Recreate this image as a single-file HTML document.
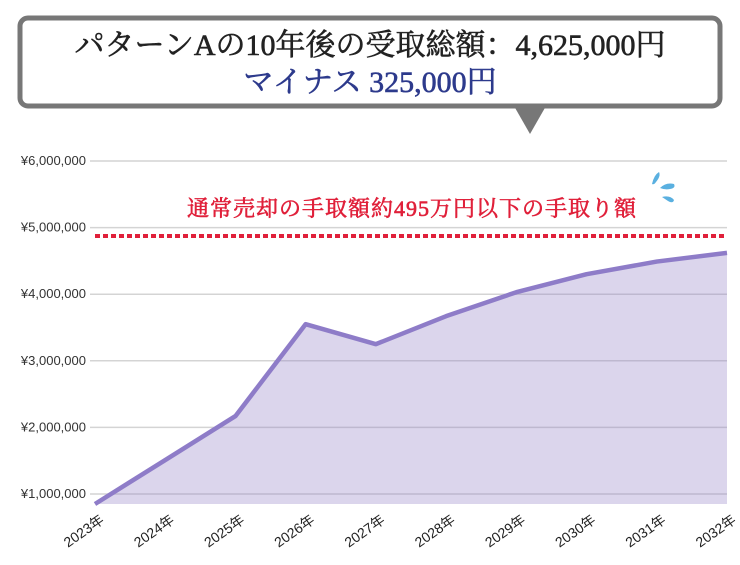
<!DOCTYPE html>
<html><head><meta charset="utf-8"><style>
body{margin:0;background:#fff;width:740px;height:560px;overflow:hidden;font-family:"Liberation Sans","Noto Sans CJK JP",sans-serif}
</style></head><body>
<svg width="740" height="560" xmlns="http://www.w3.org/2000/svg">
<g>
<rect x="20" y="18" width="700" height="88" rx="8" fill="#fff" stroke="#777" stroke-width="5"/>
<polygon points="514,106 546,106 530,134" fill="#777"/>
<text x="370" y="55" text-anchor="middle" font-family="'Liberation Serif','Noto Serif CJK SC',serif" font-size="30" fill="#222" stroke="#222" stroke-width="0.6">パターンAの10年後の受取総額：4,625,000円</text>
<text x="370" y="92" text-anchor="middle" font-family="'Liberation Serif','Noto Serif CJK SC',serif" font-size="30" fill="#2d3a8c" stroke="#2d3a8c" stroke-width="0.6">マイナス 325,000円</text>
</g>
<g id="grid"></g>
<g id="plot"></g>
<g>
<line x1="95" y1="236" x2="727" y2="236" stroke="#e0203a" stroke-width="4" stroke-dasharray="5,3"/>
<text x="412" y="216" text-anchor="middle" font-family="'Liberation Serif','Noto Serif CJK SC',serif" font-size="22" letter-spacing="1" fill="#e0203a" stroke="#e0203a" stroke-width="0.6">通常売却の手取額約495万円以下の手取り額</text>
<path d="M652,184 q2,-9 7,-12 q2,4 -3,10 q-2,3 -4,2z M660,188 q6,-6 14,-4 q2,4 -4,5 q-5,1 -10,-1z M662,197 q8,-2 12,3 q-1,4 -6,1 q-3,-2 -6,-4z" fill="#5ab0e0"/>
</g>
<g id="xlabels"></g>
</svg>
<script>
const years=["2023年","2024年","2025年","2026年","2027年","2028年","2029年","2030年","2031年","2032年"];
const values=[0.82,1.51,2.17,3.55,3.25,3.67,4.03,4.30,4.49,4.62];
const yTicks=[1,2,3,4,5,6];
const yTickLabels=["¥1,000,000","¥2,000,000","¥3,000,000","¥4,000,000","¥5,000,000","¥6,000,000"];
const NS="http://www.w3.org/2000/svg";
const X0=95,X1=727,BOTTOM=504;
function xs(i){return X0+i*(X1-X0)/(years.length-1);}
function ys(v){return 494-(v-1)*66.6;}
function mk(t,a){const e=document.createElementNS(NS,t);for(const k in a)e.setAttribute(k,a[k]);return e;}
const grid=document.getElementById('grid');
yTicks.forEach((v,i)=>{
 const l=mk('line',{x1:90,x2:727,y1:ys(v),y2:ys(v),stroke:'#d4d4d4','stroke-width':1.5});
 
 
 grid.appendChild(l);
 const t=mk('text',{x:86,y:ys(v)+4,'text-anchor':'end','font-size':13,fill:'#333'});
 t.textContent=yTickLabels[i];
 
 
 grid.appendChild(t);
});
const plot=document.getElementById('plot');
let d='';values.forEach((v,i)=>{d+=(i?'L':'M')+xs(i)+','+Math.min(ys(v),BOTTOM);});
const area=mk('path',{d:d+'L'+xs(values.length-1)+','+BOTTOM+'L'+xs(0)+','+BOTTOM+'Z',fill:'#8e7cc3','fill-opacity':0.32});


plot.appendChild(area);
const line=mk('path',{d:d,fill:'none',stroke:'#8e7cc8','stroke-width':4.5,'stroke-linejoin':'round'});


plot.appendChild(line);
const xl=document.getElementById('xlabels');
years.forEach((y,i)=>{
 const t=mk('text',{x:xs(i)+10,y:522,'text-anchor':'end','font-size':14,fill:'#222',transform:'rotate(-35 '+(xs(i)+10)+' 522)'});
 t.textContent=y;
 
 
 xl.appendChild(t);
});
</script>
</body></html>
